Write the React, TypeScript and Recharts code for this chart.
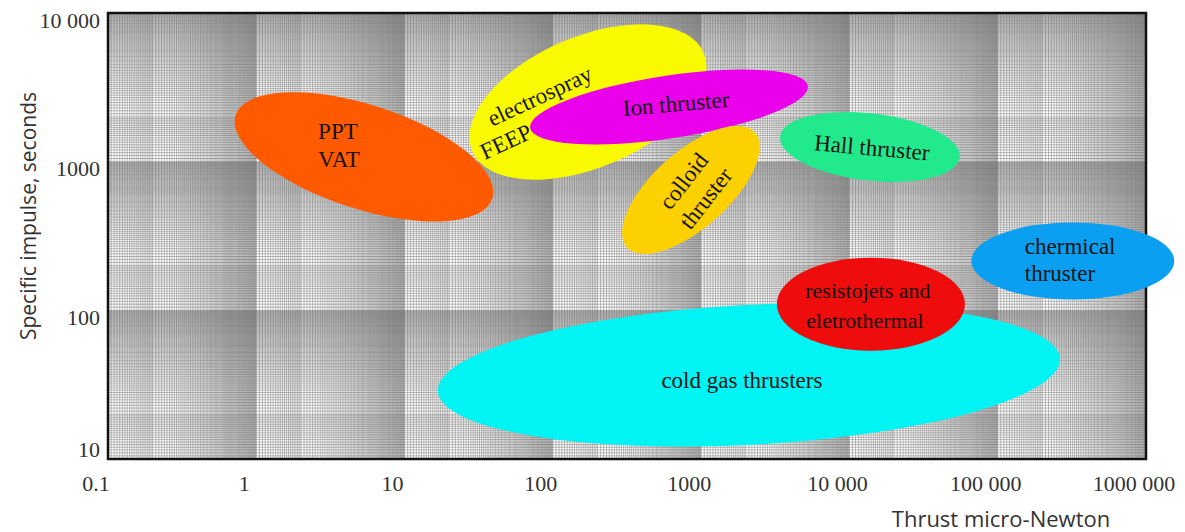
import React from 'react';
import { ComposedChart, XAxis, YAxis, CartesianGrid, ReferenceArea, Scatter } from 'recharts';

// axis ticks
const xTicks = [0.1, 1, 10, 100, 1000, 10000, 100000, 1000000];
const xTickLabels = ['0.1', '1', '10', '100', '1000', '10 000', '100 000', '1000 000'];
const yTicks = [10, 100, 1000, 10000];
const yTickLabels = ['10', '100', '1000', '10 000'];

// thruster regions: centre (thrust in micro-Newton, specific impulse in s)
const regionNames = ['cold gas', 'resistojet', 'ppt', 'electrospray', 'ion', 'colloid', 'hall', 'chemical'];
const centreThrust = [2099, 13960, 5.32, 172.5, 607, 853, 13740, 321000];
const centreIsp = [36.8, 110, 1077, 2518, 2333, 646, 1256, 215];
// half lengths of the long / short axis of each region, in decades
const majorDecades = [2.1, 0.634, 0.91, 0.848, 0.947, 0.58, 0.61, 0.684];
const minorDecades = [0.47, 0.313, 0.35, 0.44, 0.211, 0.256, 0.226, 0.259];
const regionLabels = [
  ['cold gas thrusters'],
  ['resistojets and', 'eletrothermal'],
  ['PPT', 'VAT'],
  ['electrospray', 'FEEP'],
  ['Ion thruster'],
  ['colloid', 'thruster'],
  ['Hall thruster'],
  ['chermical', 'thruster'],
];

// looks of each region (same order as above)
const regionStyles = [
  { fill: '#00f4f4', tilt: -3, dx: -7, dy: 6, rot: 0, anchor: 'middle', lines: [[0, 0]], size: 23 },
  { fill: '#ee0c0c', tilt: 0, dx: -4, dy: 1, rot: 0, anchor: 'middle', lines: [[1, -15], [-2, 15]], size: 22 },
  { fill: '#ff5a00', tilt: 18, dx: -26, dy: -11, rot: 0, anchor: 'middle', lines: [[0, -14], [1, 14]], size: 23 },
  { fill: '#f9f900', tilt: -23, dx: -65, dy: 17, rot: -25, anchor: 'middle', lines: [[25, -13.5], [-25, 13.5]], size: 23 },
  { fill: '#ea00ea', tilt: -8.6, dx: 7, dy: -3, rot: -5, anchor: 'middle', lines: [[0, 0]], size: 23 },
  { fill: '#fdd000', tilt: -42, dx: 4, dy: 0, rot: -52, anchor: 'middle', lines: [[0, -14], [0, 14]], size: 23 },
  { fill: '#22ea8c', tilt: 6.6, dx: 2, dy: 1, rot: 5, anchor: 'middle', lines: [[0, 0]], size: 23 },
  { fill: '#0a9ff0', tilt: 0, dx: -48, dy: 0, rot: 0, anchor: 'start', lines: [[0, -14], [0, 13]], size: 23 },
];

// log paper rulings inside one decade
const rulingSteps = [
  [1, 2, 0.05],
  [2, 10, 0.1],
];
const decadeRulings = (fromExp: number, toExp: number) => {
  const out: number[] = [];
  for (let e = fromExp; e < toExp; e++) {
    rulingSteps.forEach(([a, b, s]) => {
      for (let m = a; m < b - 1e-9; m += s) out.push(parseFloat((m * Math.pow(10, e)).toPrecision(6)));
    });
  }
  out.push(Math.pow(10, toExp));
  return out;
};
const verticalRulings = decadeRulings(-1, 6);
const horizontalRulings = decadeRulings(1, 4);

const labelPoints = regionNames.map((name, i) => ({ name, thrust: centreThrust[i], isp: centreIsp[i], idx: i }));

const serif = '"Liberation Serif", "Times New Roman", serif';
const sans = '"Open Sans", "Noto Sans", sans-serif';

const EllipseShape = (props: any) => {
  const { x, y, width, height, fill, tilt } = props;
  const cx = x + width / 2;
  const cy = y + height / 2;
  return (
    <ellipse cx={cx} cy={cy} rx={Math.abs(width) / 2} ry={Math.abs(height) / 2} fill={fill}
      transform={`rotate(${tilt} ${cx} ${cy})`} />
  );
};

const RegionLabel = (props: any) => {
  const { cx, cy, payload } = props;
  if (cx == null || cy == null) return null;
  const st = regionStyles[payload.idx];
  const lx = cx + st.dx;
  const ly = cy + st.dy;
  return (
    <g transform={`rotate(${st.rot} ${lx} ${ly})`}>
      {regionLabels[payload.idx].map((t, k) => (
        <text key={k} x={lx + st.lines[k][0]} y={ly + st.lines[k][1]} textAnchor={st.anchor}
          dominantBaseline="central" fontFamily={serif} fontSize={st.size} fill="#141414">
          {t}
        </text>
      ))}
    </g>
  );
};

const XTick = (props: any) => {
  const { x, y, payload } = props;
  const i = xTicks.indexOf(payload.value);
  return (
    <text x={x - 12} y={y + 16} textAnchor="middle" dominantBaseline="central" fontFamily={serif} fontSize={22} fill="#333">
      {xTickLabels[i]}
    </text>
  );
};

const YTick = (props: any) => {
  const { x, y, payload } = props;
  const i = yTicks.indexOf(payload.value);
  return (
    <text x={x} y={y + (payload.value === 10 ? -10 : 7)} textAnchor="end" dominantBaseline="central" fontFamily={serif} fontSize={22} fill="#333">
      {yTickLabels[i]}
    </text>
  );
};

export default function App() {
  return (
    <div style={{ position: 'absolute', left: 0, top: 0, width: 1185, height: 532, background: '#fff' }}>
      <ComposedChart width={1185} height={532} margin={{ top: 13, right: 39, bottom: 0, left: 0 }}>
        <CartesianGrid stroke="#5c5c5c" strokeWidth={0.4} verticalValues={verticalRulings} horizontalValues={horizontalRulings} />
        <XAxis type="number" dataKey="thrust" scale="log" domain={[0.1, 1000000]} ticks={xTicks} interval={0}
          allowDataOverflow axisLine={false} tickLine={false} tick={<XTick />} height={73}
          label={{
            content: (p: any) => (
              <text x={p.viewBox.x + p.viewBox.width - 145} y={p.viewBox.y + 59} textAnchor="middle" dominantBaseline="central"
                fontFamily={sans} fontSize={22} fill="#333">Thrust micro-Newton</text>
            ),
          }} />
        <YAxis type="number" dataKey="isp" scale="log" domain={[10, 10000]} ticks={yTicks} interval={0}
          allowDataOverflow axisLine={false} tickLine={false} tick={<YTick />} width={108}
          label={{
            content: (p: any) => {
              const lx = p.viewBox.x + 28;
              const ly = p.viewBox.y + p.viewBox.height / 2 - 20;
              return (
                <text x={lx} y={ly} transform={`rotate(-90 ${lx} ${ly})`} textAnchor="middle" dominantBaseline="central"
                  fontFamily={sans} fontSize={21} fill="#333">Specific impulse, seconds</text>
              );
            },
          }} />
        <ReferenceArea x1={xTicks[0]} x2={xTicks[xTicks.length - 1]} y1={yTicks[0]} y2={yTicks[yTicks.length - 1]}
          fill="none" stroke="#111" strokeWidth={2.5} ifOverflow="visible" />
        {regionNames.map((name, i) => (
          <ReferenceArea key={name}
            x1={centreThrust[i] / Math.pow(10, majorDecades[i])} x2={centreThrust[i] * Math.pow(10, majorDecades[i])}
            y1={centreIsp[i] / Math.pow(10, minorDecades[i])} y2={centreIsp[i] * Math.pow(10, minorDecades[i])}
            ifOverflow="visible"
            shape={(p: any) => <EllipseShape {...p} fill={regionStyles[i].fill} tilt={regionStyles[i].tilt} />} />
        ))}
        <Scatter data={labelPoints} dataKey="isp" shape={<RegionLabel />} isAnimationActive={false} />
      </ComposedChart>
    </div>
  );
}
